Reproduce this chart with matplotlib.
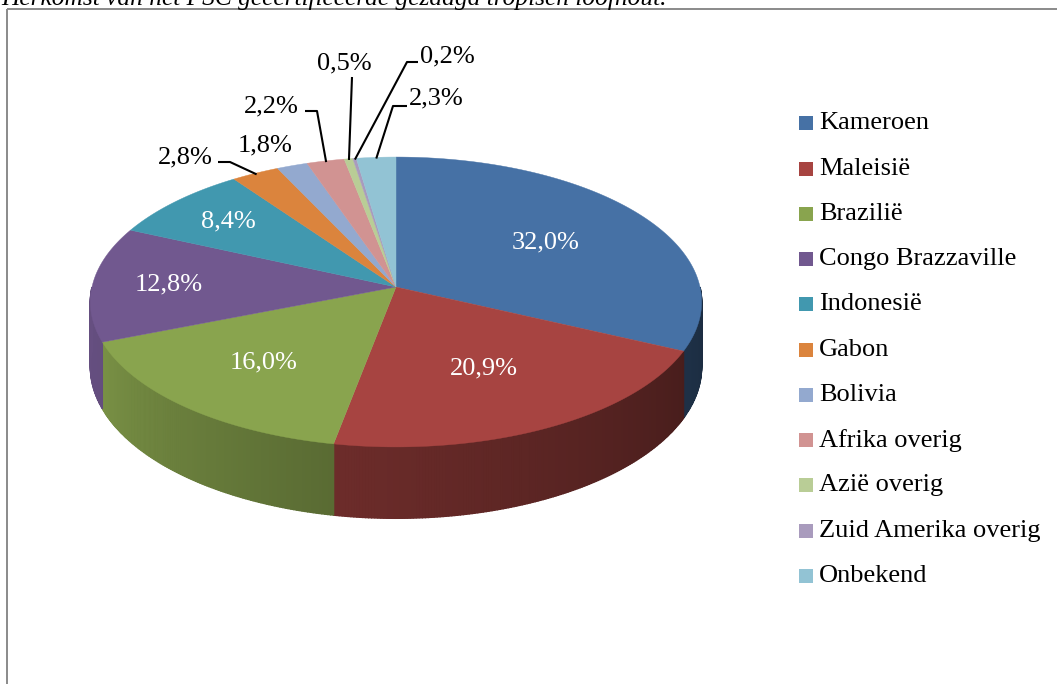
import numpy as np
import matplotlib.pyplot as plt
from matplotlib.patches import Polygon, Rectangle
from matplotlib.colors import to_rgb

# Herkomst van het FSC gecertificeerde gezaagd tropisch loofhout
landen = ['Kameroen', 'Maleisië', 'Brazilië', 'Congo Brazzaville', 'Indonesië', 'Gabon',
          'Bolivia', 'Afrika overig', 'Azië overig', 'Zuid Amerika overig', 'Onbekend']
aandeel = [32.0, 20.9, 16.0, 12.8, 8.4, 2.8, 1.8, 2.2, 0.5, 0.2, 2.3]
kleuren = ['#4671A5', '#A74441', '#89A44E', '#71588F', '#4198AF', '#DB843D',
           '#93A9CF', '#D19392', '#B9CD96', '#A99BBD', '#92C3D4']

# layout of the pseudo-3D pie (pixels)
CX, CY = 396, 287
RX, RY = 304, 143.4
K = 0.1034          # perspective
DEPTH = 64

def proj(c, s, z=0.0):
    den = 1 + K * s
    return CX + RX * c / den, CY - (RY * s - z) / den

def rim(theta, z=0.0):
    t = np.radians(theta)
    return proj(np.cos(t), np.sin(t), z)

def shade(theta):
    return np.interp(theta, [-180, -158, -100, -25, 0], [0.90, 0.88, 0.65, 0.43, 0.38])

plt.rcParams['font.family'] = ['Liberation Serif', 'DejaVu Serif']

fig = plt.figure(figsize=(10.57, 6.84), dpi=100)
ax = fig.add_axes([0, 0, 1, 1])
ax.set_xlim(0, 1057)
ax.set_ylim(684, 0)
ax.axis('off')

vals = np.array(aandeel)
fr = vals / vals.sum()
starts = 90 - 360 * np.concatenate([[0], np.cumsum(fr)[:-1]])
ends = starts - 360 * fr
mids = (starts + ends) / 2

# side walls (front half only): one base polygon, then shaded strips on top
for i in range(len(vals)):
    a, b = max(ends[i], -180), min(starts[i], 0)
    if a >= b:
        continue
    th = np.linspace(b, a, max(2, int((b - a) / 0.5) + 1))
    base = np.array(to_rgb(kleuren[i]))
    outline = [rim(t) for t in th] + [rim(t, DEPTH) for t in th[::-1]]
    midcol = base * shade((a + b) / 2)
    ax.add_patch(Polygon(outline, closed=True, fc=midcol, ec='none'))
    for t1, t2 in zip(th[:-1], th[1:]):
        pts = [rim(t1), rim(t2), rim(t2, DEPTH), rim(t1, DEPTH)]
        col = base * shade((t1 + t2) / 2)
        ax.add_patch(Polygon(pts, closed=True, fc=col, ec=col, lw=1.0))

# top faces
for i in range(len(vals)):
    th = np.linspace(starts[i], ends[i], max(3, int(abs(starts[i] - ends[i]) * 2)))
    pts = [proj(0, 0)] + [rim(t) for t in th]
    ax.add_patch(Polygon(pts, closed=True, fc=kleuren[i], ec=kleuren[i], lw=0.3))

def pct(v):
    return f'{v:.1f}%'.replace('.', ',')

# labels inside the big slices
binnen_r = [0.6, 0.6, 0.65, 0.75, 0.75]
for i, r in enumerate(binnen_r):
    t = np.radians(mids[i])
    x, y = proj(r * np.cos(t), r * np.sin(t))
    ax.text(x, y, pct(aandeel[i]), color='white', fontsize=19, ha='center', va='center')

# labels outside the small slices, with leader lines
buiten_tekst = [(185, 157), (265, 145), (271, 106), (344, 63), (447, 56), (436, 98)]
buiten_start = [(218, 162), None, (305, 111), (352, 77), (418, 62), (407, 106)]
buiten_knik = [(230, 162), None, (317, 111), None, (407, 62), (393, 106)]
for j, i in enumerate(range(5, 11)):
    tx, ty = buiten_tekst[j]
    ax.text(tx, ty, pct(aandeel[i]), color='black', fontsize=19, ha='center', va='center')
    if buiten_start[j] is None:
        continue
    t = np.radians(mids[i])
    ex, ey = proj(0.99 * np.cos(t), 0.99 * np.sin(t))
    pts = [buiten_start[j]]
    if buiten_knik[j] is not None:
        pts.append(buiten_knik[j])
    pts.append((ex, ey))
    xs, ys = zip(*pts)
    ax.plot(xs, ys, color='black', lw=1.5, solid_capstyle='butt')

# legend
for i, naam in enumerate(landen):
    y = 123.3 + i * 45.25
    ax.add_patch(Rectangle((799, y - 7), 14, 14, fc=kleuren[i], ec='none'))
    ax.text(819, y, naam, fontsize=19, ha='left', va='center')

# frame and cut-off caption
ax.add_patch(Rectangle((7, 9), 1200, 800, fill=False, ec='#8a8a8a', lw=1.4))
ax.text(1, 4.5, 'Herkomst van het FSC gecertificeerde gezaagd tropisch loofhout.',
        fontsize=18.3, style='italic', ha='left', va='baseline')

fig.savefig('out.png', dpi=100)
